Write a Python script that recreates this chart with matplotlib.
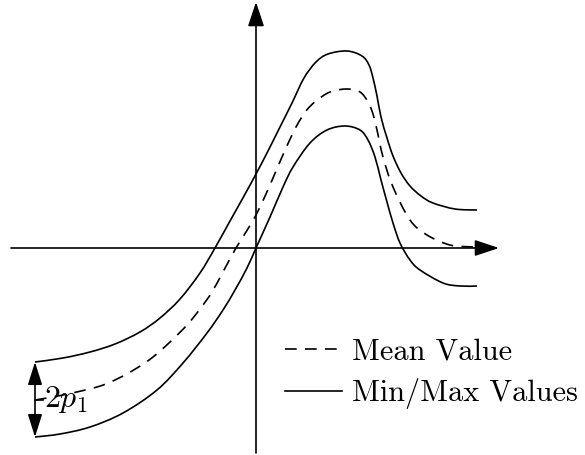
import matplotlib
matplotlib.use("Agg")
import matplotlib.pyplot as plt
from matplotlib.path import Path
from matplotlib.patches import PathPatch
from matplotlib.lines import Line2D

plt.rcParams["mathtext.fontset"] = "cm"

# curve values, origin at the axes crossing (x right, y up)
mean_x = [-221, -193, -159, -139, -119, -103, -86, -69, -56, -44, -32, -20, -10, 0,
          10, 20, 30, 40, 50, 60, 74, 91, 104, 112, 117, 121, 127, 137, 154, 171, 194, 217, 234]
mean_y = [-152, -147, -139, -131, -120, -109, -94, -77, -61, -44, -22, 0, 16, 33,
          54, 77, 100, 121, 137, 147, 156, 159, 156, 146, 134, 118, 91, 61, 28, 13, 3, 1, 0]

upper_x = [-221, -193, -166, -141, -116, -96, -76, -56, -41, -26, -12, 0, 12, 24, 36, 48,
           60, 72, 91, 106, 113, 117, 121, 125, 131, 137, 145, 154, 165, 177, 199, 221]
upper_y = [-114, -110, -104, -96, -84, -70, -51, -25, 0, 27, 52, 74, 97, 121, 145, 170,
           186, 194, 197, 192, 183, 170, 152, 131, 110, 92, 75, 62, 52, 45, 39, 38]

lower_x = [-221, -196, -166, -133, -99, -73, -49, -33, -21, -9, 0, 14, 27, 37, 54, 71,
           89, 104, 112, 119, 125, 131, 137, 144, 154, 164, 187, 204, 221]
lower_y = [-189, -186, -179, -165, -142, -115, -85, -62, -42, -20, 0, 31, 61, 81, 105, 118,
           122, 118, 108, 91, 68, 46, 25, 5, -12, -22, -35, -38, -38]

x_axis = [-245, 243]
y_axis = [-205, 246]
spread = [-114, -189]   # ends of the 2p1 marker at the left end


def smooth(xs, ys):
    # catmull-rom through the points, handed to matplotlib as cubic beziers
    pts = list(zip(xs, ys))
    verts = [pts[0]]
    codes = [Path.MOVETO]
    for i in range(len(pts) - 1):
        p0 = pts[max(i - 1, 0)]
        p1 = pts[i]
        p2 = pts[i + 1]
        p3 = pts[min(i + 2, len(pts) - 1)]
        c1 = (p1[0] + (p2[0] - p0[0]) / 6, p1[1] + (p2[1] - p0[1]) / 6)
        c2 = (p2[0] - (p3[0] - p1[0]) / 6, p2[1] - (p3[1] - p1[1]) / 6)
        verts += [c1, c2, p2]
        codes += [Path.CURVE4] * 3
    return Path(verts, codes)


fig = plt.figure(figsize=(5.85, 4.55), dpi=100)
ax = fig.add_axes([0, 0, 1, 1])
ax.set_xlim(-256, 329)
ax.set_ylim(-207, 248)
ax.axis("off")

lw = 1.2
arrow = dict(arrowstyle="-|>,head_length=0.75,head_width=0.25", mutation_scale=20,
             color="black", lw=lw, shrinkA=0, shrinkB=0)
ax.annotate("", xy=(x_axis[1], 0), xytext=(x_axis[0], 0), arrowprops=arrow)
ax.annotate("", xy=(0, y_axis[1]), xytext=(0, y_axis[0]), arrowprops=arrow)

ax.add_patch(PathPatch(smooth(mean_x, mean_y), fill=False, color="black", lw=lw,
                       linestyle=(0, (7, 5))))
ax.add_patch(PathPatch(smooth(upper_x, upper_y), fill=False, color="black", lw=lw))
ax.add_patch(PathPatch(smooth(lower_x, lower_y), fill=False, color="black", lw=lw))

# 2p1 marker
ax.annotate("", xy=(upper_x[0], spread[0]), xytext=(upper_x[0], spread[1]),
            arrowprops=dict(arrowstyle="<|-|>,head_length=0.7,head_width=0.22",
                            mutation_scale=20, color="black", lw=lw,
                            shrinkA=0, shrinkB=0))
ax.plot([upper_x[0], upper_x[0] + 8], [sum(spread) / 2] * 2, color="black", lw=lw)
ax.text(upper_x[0] + 9, sum(spread) / 2, r"$2p_1$", fontsize=23, va="center", ha="left")

handles = [Line2D([], [], color="black", lw=lw, linestyle=(0, (7, 5))),
           Line2D([], [], color="black", lw=lw)]
ax.legend(handles, ["Mean Value", "Min/Max Values"], loc="upper left",
          bbox_to_anchor=(0.487, 0.257), frameon=False,
          prop={"family": "cmr10", "size": 21.8}, handlelength=1.9,
          handletextpad=0.3, labelspacing=0.42, borderaxespad=0, borderpad=0)

fig.savefig("out.png", dpi=100)
